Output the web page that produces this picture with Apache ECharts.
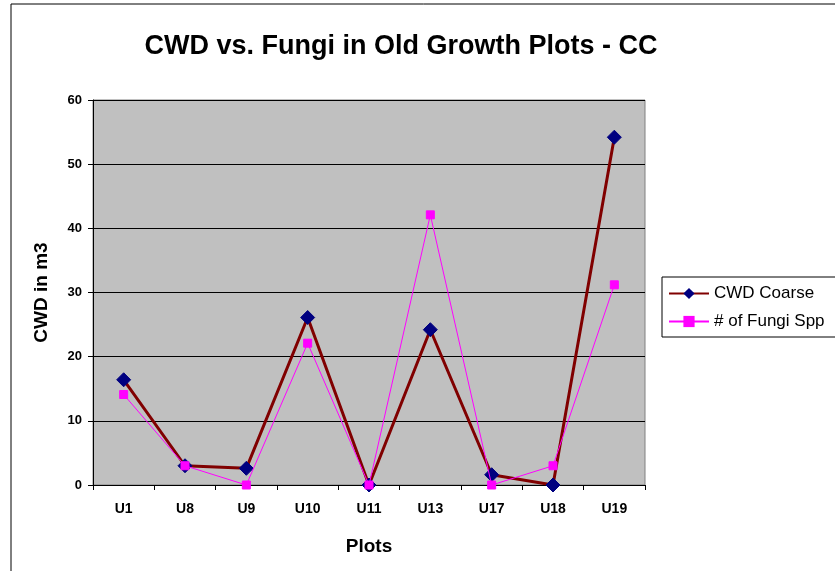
<!DOCTYPE html>
<html>
<head>
<meta charset="utf-8">
<script src="https://cdn.jsdelivr.net/npm/echarts@6/dist/echarts.min.js"></script>
<style>
  html, body { margin: 0; padding: 0; background: #fff; }
  #chart { width: 835px; height: 571px; }
</style>
</head>
<body>
<div id="chart"></div>
<script>
// plot names along the x axis
const plots = ['U1', 'U8', 'U9', 'U10', 'U11', 'U13', 'U17', 'U18', 'U19'];
// coarse woody debris volume (m3)
const cwdCoarse = [16.4, 3, 2.6, 26.1, 0, 24.2, 1.6, 0, 54.2];
// number of fungi species
const fungiSpp = [14.1, 3, 0, 22.1, 0, 42.1, 0, 3, 31.2];

const chart = echarts.init(document.getElementById('chart'));
const font = 'Arial, "Liberation Sans", sans-serif';

chart.setOption({
    backgroundColor: '#ffffff',
    animation: false,
    title: {
        text: 'CWD vs. Fungi in Old Growth Plots - CC',
        left: 396, top: 28, textAlign: 'center',
        textStyle: { fontFamily: font, fontWeight: 'bold', fontSize: 27, color: '#000' }
    },
    graphic: [
        // outer chart border
        { type: 'rect', shape: { x: 11, y: 4, width: 900, height: 700 },
          style: { fill: 'none', stroke: '#000', lineWidth: 1 }, z: -1 }
    ],
    legend: {
        orient: 'vertical', left: 662, top: 277,
        backgroundColor: '#fff', borderColor: '#000', borderWidth: 1,
        padding: [8, 60, 7, 6], itemGap: 11,
        itemWidth: 40, itemHeight: 14,
        textStyle: { fontFamily: font, fontSize: 17, color: '#000' },
        data: ['CWD Coarse', '# of Fungi Spp']
    },
    grid: { left: 93, right: 190, top: 100, bottom: 86,
            show: true, backgroundColor: '#c0c0c0', borderColor: '#808080', borderWidth: 1 },
    xAxis: {
        type: 'category', data: plots, boundaryGap: true,
        name: 'Plots', nameLocation: 'middle', nameGap: 52,
        nameTextStyle: { fontFamily: font, fontWeight: 'bold', fontSize: 19, color: '#000' },
        axisLine: { lineStyle: { color: '#000', width: 1 } },
        axisTick: { show: true, length: 5, lineStyle: { color: '#000' } },
        axisLabel: { fontFamily: font, fontWeight: 'bold', fontSize: 14, color: '#000', margin: 17 }
    },
    yAxis: {
        type: 'value', min: 0, max: 60, interval: 10,
        name: 'CWD in m3', nameLocation: 'middle', nameGap: 42, nameRotate: 90,
        nameTextStyle: { fontFamily: font, fontWeight: 'bold', fontSize: 19, color: '#000' },
        axisLine: { show: true, lineStyle: { color: '#000', width: 1 } },
        axisTick: { show: true, length: 5, lineStyle: { color: '#000' } },
        axisLabel: { fontFamily: font, fontWeight: 'bold', fontSize: 13, color: '#000', margin: 11 },
        splitLine: { show: true, lineStyle: { color: '#000', width: 1 } }
    },
    series: [
        {
            name: 'CWD Coarse', type: 'line', data: cwdCoarse,
            symbol: 'diamond', symbolSize: 14,
            lineStyle: { color: '#800000', width: 3 },
            itemStyle: { color: '#000080', borderColor: '#000080' },
            z: 2
        },
        {
            name: '# of Fungi Spp', type: 'line', data: fungiSpp,
            symbol: 'rect', symbolSize: 8,
            lineStyle: { color: '#ff00ff', width: 1 },
            itemStyle: { color: '#ff00ff', borderColor: '#ff00ff' },
            z: 3
        }
    ]
});
</script>
</body>
</html>
